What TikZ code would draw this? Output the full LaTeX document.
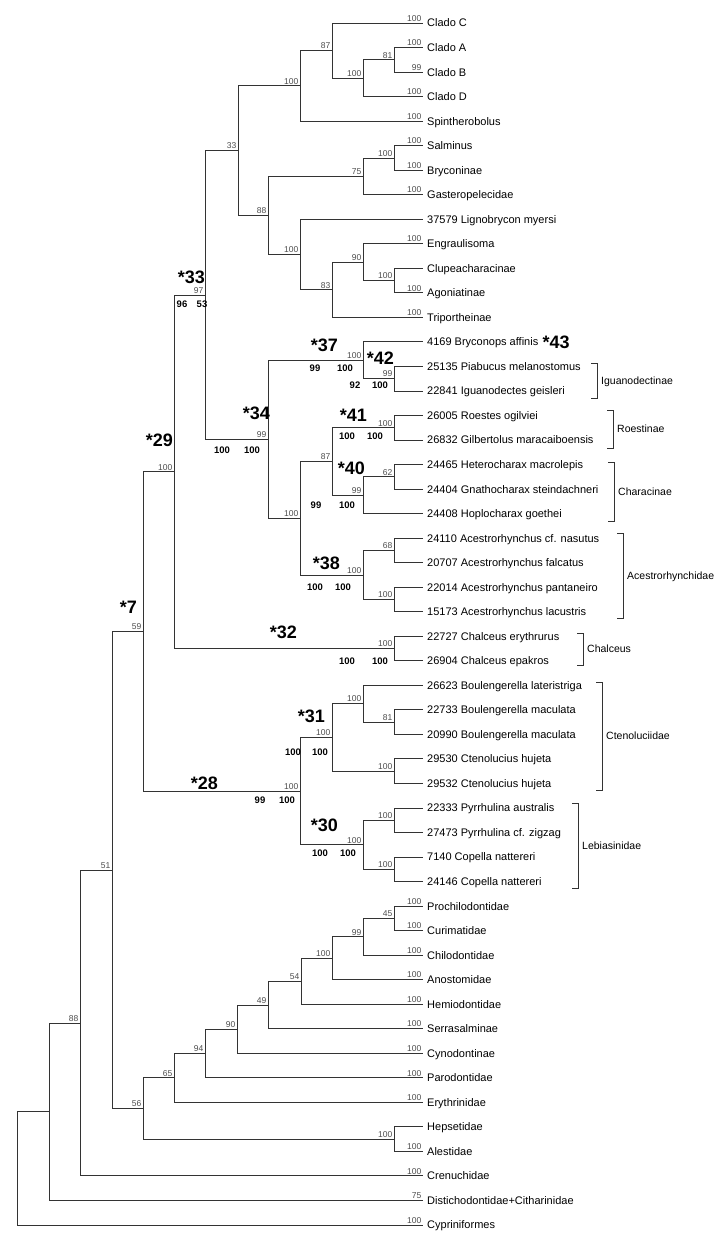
\documentclass[tikz,border=0pt]{standalone}
\usepackage{fontspec}
\setmainfont{Liberation Sans}
\usetikzlibrary{positioning}
\tikzstyle{branch} = [line width=0.9pt, draw=black!80]
\tikzstyle{taxon} = [anchor=west, inner sep=0pt, text height=7.9pt, text depth=0pt,
    font=\fontsize{11}{12}\selectfont]
\tikzstyle{famname} = [anchor=west, inner sep=0pt, text height=7.5pt, text depth=0pt,
    font=\fontsize{10.5}{12}\selectfont]
\tikzstyle{boot} = [anchor=south east, inner sep=1.5pt, text=black!70,
    font=\fontsize{8.5}{9}\selectfont]
\tikzstyle{bold} = [inner sep=0pt, font=\fontsize{9.5}{10}\selectfont\bfseries]
\tikzstyle{cladenum} = [inner sep=0pt, font=\fontsize{18}{18}\selectfont\bfseries]

\begin{document}
\begin{tikzpicture}[x=1pt,y=-1pt]
\useasboundingbox (0,0) rectangle (715,1233);

\foreach \i/\name in {0/Clado C, 1/Clado A, 2/Clado B, 3/Clado D, 4/Spintherobolus,
    5/Salminus, 6/Bryconinae, 7/Gasteropelecidae, 8/37579 Lignobrycon myersi,
    9/Engraulisoma, 10/Clupeacharacinae, 11/Agoniatinae, 12/Triportheinae,
    13/4169 Bryconops affinis, 14/25135 Piabucus melanostomus, 15/22841 Iguanodectes geisleri,
    16/26005 Roestes ogilviei, 17/26832 Gilbertolus maracaiboensis,
    18/24465 Heterocharax macrolepis, 19/24404 Gnathocharax steindachneri,
    20/24408 Hoplocharax goethei, 21/24110 Acestrorhynchus cf. nasutus,
    22/20707 Acestrorhynchus falcatus, 23/22014 Acestrorhynchus pantaneiro,
    24/15173 Acestrorhynchus lacustris, 25/22727 Chalceus erythrurus,
    26/26904 Chalceus epakros, 27/26623 Boulengerella lateristriga,
    28/22733 Boulengerella maculata, 29/20990 Boulengerella maculata,
    30/29530 Ctenolucius hujeta, 31/29532 Ctenolucius hujeta,
    32/22333 Pyrrhulina australis, 33/27473 Pyrrhulina cf. zigzag,
    34/7140 Copella nattereri, 35/24146 Copella nattereri,
    36/Prochilodontidae, 37/Curimatidae, 38/Chilodontidae, 39/Anostomidae,
    40/Hemiodontidae, 41/Serrasalminae, 42/Cynodontinae, 43/Parodontidae,
    44/Erythrinidae, 45/Hepsetidae, 46/Alestidae, 47/Crenuchidae,
    48/Distichodontidae+Citharinidae, 49/Cypriniformes}
{
    \coordinate (t\i) at (423, 23+24.53*\i);
    \node[taxon] (L\i) at (427, 23+24.53*\i) {\name};
}

\coordinate (nAB) at (394,59.8);
\coordinate (nABD) at (363,78.2);
\coordinate (nClado) at (332,50.6);
\coordinate (nSpin) at (300,85.9);
\coordinate (nSB) at (394,158.0);
\coordinate (nSBG) at (363,176.4);
\coordinate (nCA) at (394,280.6);
\coordinate (nECA) at (363,262.2);
\coordinate (nTri) at (332,289.8);
\coordinate (nLig) at (300,254.5);
\coordinate (n88) at (268,215.5);
\coordinate (n33a) at (238,150.7);
\coordinate (n42) at (394,378.7);
\coordinate (n37) at (363,360.3);
\coordinate (n41) at (394,427.8);
\coordinate (nHG) at (394,476.8);
\coordinate (n40) at (363,495.2);
\coordinate (n87) at (332,461.5);
\coordinate (nAc1) at (394,550.4);
\coordinate (nAc2) at (394,599.5);
\coordinate (n38) at (363,575.0);
\coordinate (n100m) at (300,518.2);
\coordinate (n34) at (268,439.3);
\coordinate (n33) at (205,295.0);
\coordinate (n32) at (394,648.6);
\coordinate (n29) at (174,471.8);
\coordinate (nBmac) at (394,722.1);
\coordinate (nBoul) at (363,703.7);
\coordinate (nCten) at (394,771.2);
\coordinate (n31) at (332,737.4);
\coordinate (nPyr) at (394,820.2);
\coordinate (nCop) at (394,869.3);
\coordinate (n30) at (363,844.8);
\coordinate (n28) at (300,791.1);
\coordinate (n7) at (143,631.5);
\coordinate (nPC) at (394,918.4);
\coordinate (n99) at (363,936.8);
\coordinate (n100l) at (332,958.2);
\coordinate (n54) at (301,981.2);
\coordinate (n49) at (268,1005.0);
\coordinate (n90) at (237,1029.1);
\coordinate (n94) at (205,1053.5);
\coordinate (n65) at (174,1077.9);
\coordinate (nHA) at (394,1139.1);
\coordinate (n56) at (143,1108.5);
\coordinate (n51) at (112,870.0);
\coordinate (n88b) at (80,1023.0);
\coordinate (n49b) at (49,1111.7);
\coordinate (root) at (17,1168.4);

\foreach \a/\b in {nAB/t1, nAB/t2, nABD/nAB, nABD/t3, nClado/t0, nClado/nABD,
    nSpin/nClado, nSpin/t4, nSB/t5, nSB/t6, nSBG/nSB, nSBG/t7, nCA/t10, nCA/t11,
    nECA/t9, nECA/nCA, nTri/nECA, nTri/t12, nLig/t8, nLig/nTri, n88/nSBG, n88/nLig,
    n33a/nSpin, n33a/n88, n42/t14, n42/t15, n37/t13, n37/n42, n41/t16, n41/t17,
    nHG/t18, nHG/t19, n40/nHG, n40/t20, n87/n41, n87/n40, nAc1/t21, nAc1/t22,
    nAc2/t23, nAc2/t24, n38/nAc1, n38/nAc2, n100m/n87, n100m/n38, n34/n37, n34/n100m,
    n33/n33a, n33/n34, n32/t25, n32/t26, n29/n33, n29/n32, nBmac/t28, nBmac/t29,
    nBoul/t27, nBoul/nBmac, nCten/t30, nCten/t31, n31/nBoul, n31/nCten,
    nPyr/t32, nPyr/t33, nCop/t34, nCop/t35, n30/nPyr, n30/nCop, n28/n31, n28/n30,
    n7/n29, n7/n28, nPC/t36, nPC/t37, n99/nPC, n99/t38, n100l/n99, n100l/t39,
    n54/n100l, n54/t40, n49/n54, n49/t41, n90/n49, n90/t42, n94/n90, n94/t43,
    n65/n94, n65/t44, nHA/t45, nHA/t46, n56/n65, n56/nHA, n51/n7, n51/n56,
    n88b/n51, n88b/t47, n49b/n88b, n49b/t48, root/n49b, root/t49}
    \draw[branch] (\a) |- (\b);

\foreach \i/\v in {0/100, 1/100, 2/99, 3/100, 4/100, 5/100, 6/100, 7/100, 9/100,
    11/100, 12/100, 36/100, 37/100, 38/100, 39/100, 40/100, 41/100, 42/100,
    43/100, 44/100, 46/100, 47/100, 48/75, 49/100}
    \node[boot] (bt\i) at (t\i) {\v};

\foreach \n/\v in {nAB/81, nABD/100, nClado/87, nSpin/100, n33a/33, nSB/100,
    nSBG/75, n88/88, nLig/100, nTri/83, nECA/90, nCA/100, n33/97, n37/100,
    n42/99, n41/100, n87/87, nHG/62, n40/99, n100m/100, nAc1/68, nAc2/100,
    n38/100, n34/99, n32/100, n29/100, nBmac/81, nBoul/100, nCten/100, n31/100,
    nPyr/100, nCop/100, n30/100, n28/100, n7/59, nPC/45, n99/99, n100l/100,
    n54/54, n49/49, n90/90, n94/94, n65/65, nHA/100, n56/56, n51/51, n88b/88}
    \node[boot] (b-\n) at (\n) {\v};

\node[cladenum, above left=11pt and 0pt of n33] (c33) {*33};
\node[cladenum, above left=25pt and 1pt of n29] (c29) {*29};
\node[cladenum, above left=18pt and 6pt of n7] (c7) {*7};
\node[cladenum, above left=19pt and -2pt of n34] (c34) {*34};
\node[cladenum, above left=8pt and 25pt of n37] (c37) {*37};
\node[cladenum, above left=14pt and 0pt of n42] (c42) {*42};
\node[cladenum, right=4pt of L13] (c43) {*43};
\node[cladenum, above left=6pt and 27pt of n41] (c41) {*41};
\node[cladenum, above left=20pt and -2pt of n40] (c40) {*40};
\node[cladenum, above left=5pt and 23pt of n38] (c38) {*38};
\node[cladenum, above left=10pt and 97pt of n32] (c32) {*32};
\node[cladenum, above left=15pt and 7pt of n31] (c31) {*31};
\node[cladenum, above left=13pt and 25pt of n30] (c30) {*30};
\node[cladenum, above left=1pt and 82pt of n28] (c28) {*28};

\foreach \x/\y/\v [count=\k] in {182/304/96, 202/304/53, 222/450/100, 252/450/100,
    315/368/99, 345/368/100, 355/385/92, 380/385/100, 347/436/100, 375/436/100,
    316/505/99, 347/505/100, 315/587/100, 343/587/100, 347/661/100, 380/661/100,
    293/752/100, 320/752/100, 320/853/100, 348/853/100, 260/800/99, 287/800/100}
    \node[bold] (p\k) at (\x,\y) {\v};

\foreach \x/\ya/\yb/\name [count=\k] in {597/363/398/Iguanodectinae,
    613/410/448/Roestinae, 614/462/521/Characinae, 623/533/618/Acestrorhynchidae,
    583/633/665/Chalceus, 602/682/790/Ctenoluciidae, 578/803/888/Lebiasinidae}
{
    \draw[branch] (\x-6,\ya) -- (\x,\ya) -- (\x,\yb) -- (\x-6,\yb);
    \node[famname] (fam\k) at (\x+4,{(\ya+\yb)/2}) {\name};
}
\end{tikzpicture}
\end{document}
